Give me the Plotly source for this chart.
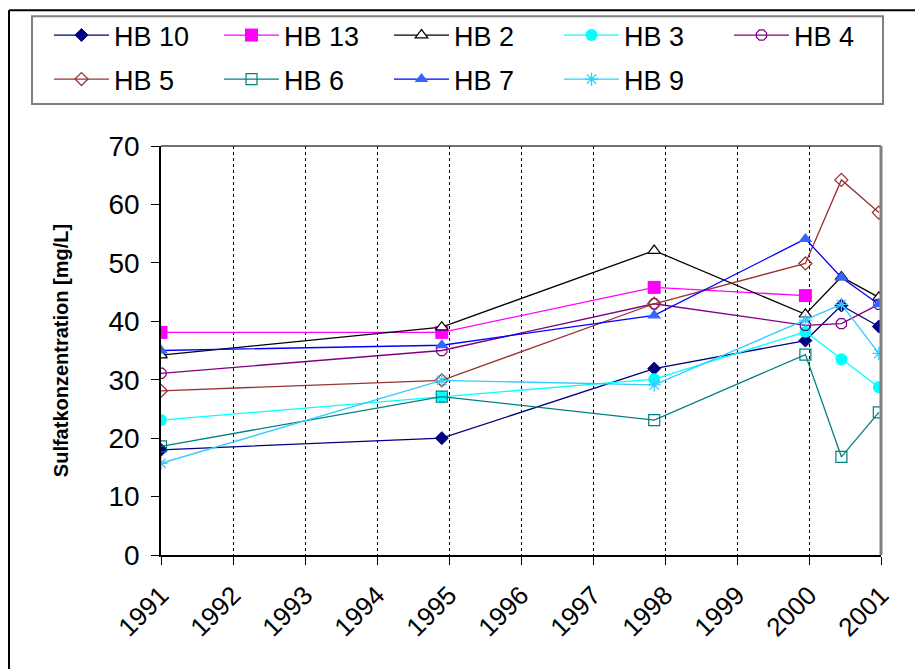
import plotly.graph_objects as go

# Sampling dates (decimal years) and sulfate concentrations per well
dates = [1991.0, 1994.9, 1997.85, 1999.95, 2000.45, 2000.97]

hb10 = [18.0, 20.0, 31.9, 36.7, 42.7, 39.1]
hb13 = [38.1, 38.1, 45.8, 44.4]
hb2 = [34.2, 39.0, 52.1, 41.2, 47.6, 44.1]
hb3 = [23.1, 27.1, 30.1, 38.2, 33.5, 28.7]
hb4 = [31.1, 35.0, 43.0, 39.3, 39.6, 42.9]
hb5 = [28.1, 29.9, 43.0, 49.9, 64.2, 58.6]
hb6 = [18.6, 27.1, 23.1, 34.3, 16.8, 24.4]
hb7 = [35.0, 35.9, 41.0, 54.1, 47.5, 42.9]
hb9 = [15.7, 29.9, 29.1, 40.2, 42.9, 34.5]

year_ticks = list(range(1991, 2002))
year_labels = [str(y) for y in year_ticks]

W, H = 915, 669
ML, MR, MT, MB = 161, 34, 145, 114
PW, PH = W - ML - MR, H - MT - MB

FONT = "Liberation Sans, Arial, sans-serif"


def px_x(px):
    return (px - ML) / PW


def px_y(py):
    return (H - MB - py) / PH


# name, values, marker, line colour, legend row
series = [
    ("HB 10", hb10, dict(symbol="diamond", size=10, color="#000080",
                         line=dict(width=1, color="#000080")), "#000080", "legend"),
    ("HB 13", hb13, dict(symbol="square", size=13, color="#FF00FF",
                         line=dict(width=0)), "#FF00FF", "legend"),
    ("HB 2", hb2, dict(symbol="triangle-up", size=11, color="white",
                       line=dict(width=1.2, color="black")), "black", "legend"),
    ("HB 3", hb3, dict(symbol="circle", size=12, color="#00FFFF",
                       line=dict(width=0)), "#00FFFF", "legend"),
    ("HB 4", hb4, dict(symbol="octagon-open", size=11, color="#800080",
                       line=dict(width=1.2, color="#800080")), "#800080", "legend"),
    ("HB 5", hb5, dict(symbol="diamond-open", size=10, color="#993333",
                       line=dict(width=1.3, color="#993333")), "#993333", "legend2"),
    ("HB 6", hb6, dict(symbol="square-open", size=11, color="#008080",
                       line=dict(width=1.2, color="#008080")), "#008080", "legend2"),
    ("HB 7", hb7, dict(symbol="triangle-up", size=12, color="#3366FF",
                       line=dict(width=0)), "#0000FF", "legend2"),
    ("HB 9", hb9, dict(symbol="asterisk-open", size=11, color="#33CCFF",
                       line=dict(width=1.3, color="#33CCFF")), "#33CCFF", "legend2"),
]

fig = go.Figure()
for name, vals, marker, lcol, leg in series:
    fig.add_trace(go.Scatter(
        x=dates[:len(vals)], y=vals, name=name, mode="lines+markers",
        line=dict(color=lcol, width=1.3), marker=marker, legend=leg,
    ))

shapes = [
    # outer chart frame (left and top edges)
    dict(type="line", xref="paper", yref="paper", x0=px_x(9), x1=px_x(9),
         y0=px_y(9), y1=px_y(H + 5), line=dict(color="black", width=2)),
    dict(type="line", xref="paper", yref="paper", x0=px_x(9), x1=px_x(W + 5),
         y0=px_y(9), y1=px_y(9), line=dict(color="black", width=2)),
    # legend box
    dict(type="rect", xref="paper", yref="paper", x0=px_x(32), x1=px_x(883),
         y0=px_y(103), y1=px_y(15), line=dict(color="#808080", width=2),
         layer="below"),
    # plot area border: top and right
    dict(type="line", xref="paper", yref="paper", x0=0, x1=1, y0=1, y1=1,
         line=dict(color="#404040", width=1.5)),
    dict(type="line", xref="paper", yref="paper", x0=1, x1=1, y0=0, y1=1,
         line=dict(color="#808080", width=3)),
]

legend_common = dict(
    orientation="h", xanchor="left", yanchor="top",
    font=dict(size=27, family=FONT, color="black"),
    entrywidth=100, entrywidthmode="pixels", itemwidth=55,
    bgcolor="rgba(0,0,0,0)", borderwidth=0, traceorder="normal",
)

fig.update_layout(
    width=W, height=H,
    margin=dict(l=ML, r=MR, t=MT, b=MB, pad=0),
    paper_bgcolor="white", plot_bgcolor="white",
    font=dict(family=FONT, color="black"),
    showlegend=True,
    legend=dict(x=px_x(49), y=px_y(11), **legend_common),
    legend2=dict(x=px_x(49), y=px_y(55), **legend_common),
    xaxis=dict(
        range=[1991, 2001], tickmode="array", tickvals=year_ticks,
        ticktext=year_labels, tickangle=-45,
        tickfont=dict(size=26, family=FONT, color="black"),
        ticklabelstandoff=5,
        showline=True, linecolor="black", linewidth=1.5,
        ticks="outside", ticklen=8, tickcolor="black",
        showgrid=True, gridcolor="black", gridwidth=1, griddash="dot",
        zeroline=False, fixedrange=True,
    ),
    yaxis=dict(
        range=[0, 70], tickmode="linear", tick0=0, dtick=10,
        tickfont=dict(size=28, family=FONT, color="black"),
        ticklabelstandoff=6,
        showline=True, linecolor="black", linewidth=1.5,
        ticks="outside", ticklen=8, tickcolor="black",
        showgrid=False, zeroline=False, fixedrange=True,
        title=dict(text="<b>Sulfatkonzentration [mg/L]</b>",
                   font=dict(size=20, family=FONT, color="black"),
                   standoff=34),
    ),
    shapes=shapes,
)

fig.write_html("out.html")
